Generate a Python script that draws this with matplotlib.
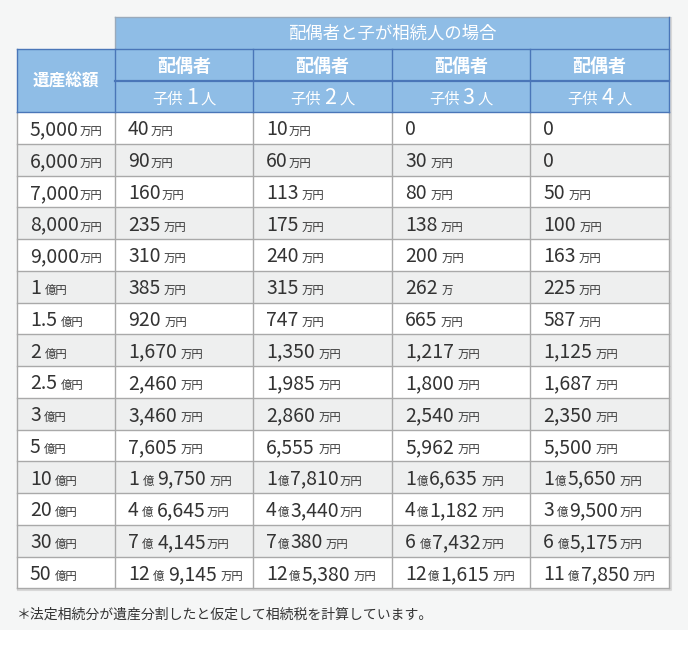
import matplotlib
matplotlib.use("Agg")
import matplotlib.pyplot as plt
from matplotlib.patches import Rectangle

plt.rcParams['font.family'] = ['Noto Sans CJK JP', 'DejaVu Sans']

# ---- data ----
title_top = "配偶者と子が相続人の場合"
row_header = "遺産総額"
col_heads = ["配偶者", "配偶者", "配偶者", "配偶者"]
children = ["1", "2", "3", "4"]

estate = ["5,000万円", "6,000万円", "7,000万円", "8,000万円", "9,000万円",
          "1 億円", "1.5 億円", "2 億円", "2.5 億円", "3 億円",
          "5 億円", "10 億円", "20 億円", "30 億円", "50 億円"]
child1 = ["40万円", "90万円", "160万円", "235 万円", "310 万円", "385 万円",
          "920 万円", "1,670 万円", "2,460 万円", "3,460 万円", "7,605 万円",
          "1 億 9,750 万円", "4 億 6,645万円", "7 億 4,145万円", "12 億 9,145 万円"]
child2 = ["10万円", "60万円", "113 万円", "175 万円", "240 万円", "315 万円",
          "747 万円", "1,350 万円", "1,985 万円", "2,860 万円", "6,555 万円",
          "1億7,810万円", "4億3,440万円", "7億380 万円", "12億5,380 万円"]
child3 = ["0", "30 万円", "80 万円", "138 万円", "200 万円", "262 万",
          "665 万円", "1,217 万円", "1,800 万円", "2,540 万円", "5,962 万円",
          "1億6,635 万円", "4億1,182 万円", "6 億7,432万円", "12億1,615 万円"]
child4 = ["0", "0", "50 万円", "100 万円", "163 万円", "225 万円",
          "587 万円", "1,125 万円", "1,687 万円", "2,350 万円", "5,500 万円",
          "1億5,650 万円", "3 億9,500万円", "6 億5,175万円", "11 億7,850 万円"]
note = "＊法定相続分が遺産分割したと仮定して相続税を計算しています。"

columns = [estate, child1, child2, child3, child4]

# ---- layout (pixels) ----
W, H = 700, 664
col_x = [17, 115, 253, 392, 530, 669]
head_y = [17, 49, 81, 112]
row_h = 31.75
n_rows = len(estate)

BG = "#f5f6f6"
HEAD = "#8fbde6"
HEAD_LINE = "#4a76b8"
GRID = "#a9a9a9"
STRIPE = "#eeefef"
TXT = "#333333"

fig = plt.figure(figsize=(W / 100, H / 100), dpi=100)
ax = fig.add_axes([0, 0, 1, 1])
ax.set_xlim(0, W)
ax.set_ylim(H, 0)
ax.axis("off")
renderer = fig.canvas.get_renderer()

ax.add_patch(Rectangle((0, 0), 688, 630, fc=BG, ec="none", zorder=0))


def rich(x, y, s, big, small, color=TXT, gap=1):
    """draw string with digits big and kanji small, baseline at y"""
    runs = []
    for ch in s:
        kind = "sp" if ch == " " else ("b" if ch in "0123456789,." else "s")
        if runs and runs[-1][0] == kind:
            runs[-1][1] += ch
        else:
            runs.append([kind, ch])
    for kind, txt in runs:
        if kind == "sp":
            x += 2.5 * len(txt)
            continue
        t = ax.text(x, y, txt, fontsize=big if kind == "b" else small,
                    color=color, va="baseline", ha="left", zorder=5)
        bb = t.get_window_extent(renderer=renderer)
        x += bb.width + gap
    return x


# header backgrounds
ax.add_patch(Rectangle((col_x[1], head_y[0]), col_x[-1] - col_x[1], head_y[1] - head_y[0],
                       fc=HEAD, ec="none", zorder=1))
ax.add_patch(Rectangle((col_x[0], head_y[1]), col_x[-1] - col_x[0], head_y[3] - head_y[1],
                       fc=HEAD, ec="none", zorder=1))

# body rows
body_top = head_y[3]
for r in range(n_rows):
    y0 = body_top + r * row_h
    ax.add_patch(Rectangle((col_x[0], y0), col_x[-1] - col_x[0], row_h,
                           fc="white" if r % 2 == 0 else STRIPE, ec="none", zorder=1))
body_bot = body_top + n_rows * row_h

# shadow
ax.plot([col_x[0] + 1, col_x[-1] + 1.5, col_x[-1] + 1.5],
        [body_bot + 1.5, body_bot + 1.5, head_y[0] + 1], color="#d8d8d8", lw=1.5, zorder=1)

# body grid
for r in range(1, n_rows + 1):
    y = body_top + r * row_h
    ax.plot([col_x[0], col_x[-1]], [y, y], color=GRID, lw=1, zorder=3)
for x in col_x:
    ax.plot([x, x], [body_top, body_bot], color=GRID, lw=1, zorder=3)

# header lines
ax.plot([col_x[1], col_x[-1]], [head_y[0], head_y[0]], color="#9aaabb", lw=1, zorder=3)
ax.plot([col_x[1], col_x[1]], [head_y[0], head_y[1]], color="#9aaabb", lw=1, zorder=3)
ax.plot([col_x[-1], col_x[-1]], [head_y[0], head_y[3]], color=HEAD_LINE, lw=1, zorder=3)
ax.plot([col_x[0], col_x[-1]], [head_y[1], head_y[1]], color=HEAD_LINE, lw=1, zorder=3)
ax.plot([col_x[1], col_x[-1]], [head_y[2], head_y[2]], color=HEAD_LINE, lw=1.6, zorder=3)
ax.plot([col_x[0], col_x[-1]], [head_y[3], head_y[3]], color=HEAD_LINE, lw=1, zorder=3)
for x in col_x[:-1]:
    ax.plot([x, x], [head_y[1], head_y[3]], color=HEAD_LINE, lw=1, zorder=3)

# header text
ax.text((col_x[1] + col_x[-1]) / 2, (head_y[0] + head_y[1]) / 2 + 1, title_top,
        fontsize=12.5, color="white", ha="center", va="center", zorder=5)
ax.text((col_x[0] + col_x[1]) / 2, (head_y[1] + head_y[3]) / 2 + 1, row_header,
        fontsize=12, color="white", ha="center", va="center", weight="bold", zorder=5)
for i, (h, n) in enumerate(zip(col_heads, children)):
    cx = (col_x[i + 1] + col_x[i + 2]) / 2
    ax.text(cx, (head_y[1] + head_y[2]) / 2 + 1, h, fontsize=13, color="white",
            ha="center", va="center", weight="bold", zorder=5)
    # child count line: small kanji, big digit
    parts = [("子供", 11), (n, 15.5), ("人", 11)]
    widths = []
    arts = []
    for txt, fs in parts:
        t = ax.text(0, 0, txt, fontsize=fs, color="white", va="baseline", zorder=5)
        widths.append(t.get_window_extent(renderer=renderer).width)
        arts.append(t)
    total = sum(widths) + 2 * 3
    x = cx - total / 2
    for t, w in zip(arts, widths):
        t.set_position((x, head_y[3] - 8))
        x += w + 3

# body text
for c, col in enumerate(columns):
    for r, s in enumerate(col):
        yb = body_top + r * row_h + row_h / 2 + 7.5
        rich(col_x[c] + 13, yb, s, big=14, small=8.2)

ax.text(col_x[0], 619, note, fontsize=10, color=TXT, ha="left", va="baseline", zorder=5)

fig.savefig("out.png", dpi=100, facecolor="white")
